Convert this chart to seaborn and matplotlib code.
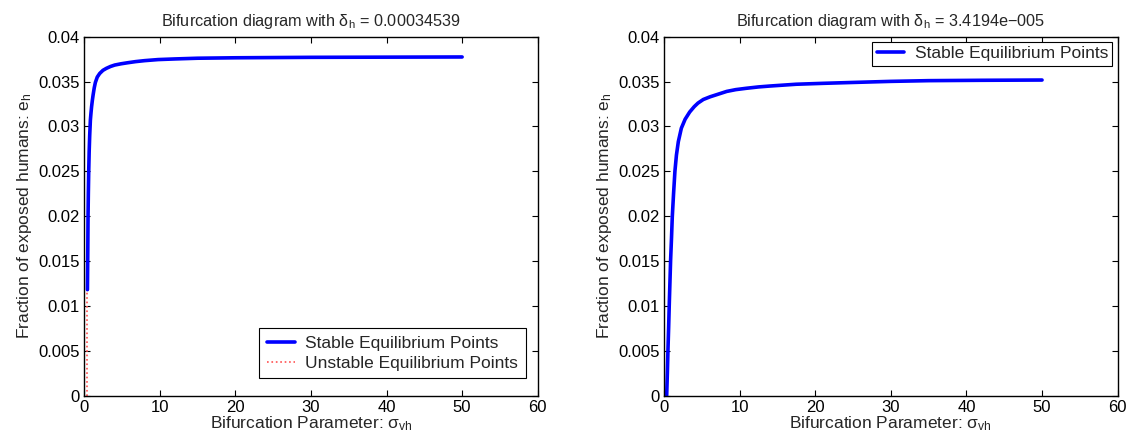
import matplotlib
matplotlib.use("Agg")
import matplotlib.pyplot as plt
import seaborn as sns
import pandas as pd
from matplotlib.ticker import FuncFormatter, MultipleLocator

# ---- data ----
left_stable_sigma = [0.45, 0.50, 0.53, 0.57, 0.62, 0.68, 0.75, 0.84, 0.92, 1.0, 1.1, 1.2, 1.35, 1.5, 1.75,
                     2.07, 2.5, 2.95, 3.5, 4.06, 4.9, 5.8, 6.8, 8.0, 9.8, 12, 15, 20, 30, 40, 50]
left_stable_e = [0.0118, 0.0165, 0.0199, 0.0225, 0.0250, 0.0272, 0.0290, 0.0307, 0.0315, 0.0322, 0.0329,
                 0.0335, 0.0343, 0.0349, 0.0355, 0.0359, 0.03625, 0.03647, 0.03668, 0.03684, 0.03698,
                 0.0371, 0.03722, 0.03733, 0.03745, 0.03752, 0.0376, 0.03765, 0.0377, 0.03772, 0.03774]
left_unstable_sigma = [0.45, 0.45]
left_unstable_e = [0.0, 0.0118]

right_stable_sigma = [0.36, 0.45, 0.53, 0.62, 0.70, 0.79, 0.88, 1.0, 1.1, 1.27, 1.45, 1.65, 1.9, 2.3, 2.8,
                      3.4, 4.0, 4.5, 5.2, 6.1, 7.2, 8.3, 9.5, 10.9, 12.5, 14, 17.5, 21, 25, 30, 35, 42, 50]
right_stable_e = [0.0, 0.0025, 0.0051, 0.0076, 0.0101, 0.0126, 0.0151, 0.0176, 0.0199, 0.0225, 0.0250,
                  0.0268, 0.0283, 0.0298, 0.0308, 0.0316, 0.0322, 0.0326, 0.0330, 0.0333, 0.0336, 0.0339,
                  0.0341, 0.03425, 0.0344, 0.0345, 0.0347, 0.0348, 0.0349, 0.03502, 0.0351, 0.03514, 0.03517]

titles = [r"Bifurcation diagram with $\delta_h$ = 0.00034539",
          r"Bifurcation diagram with $\delta_h$ = 3.4194e$-$005"]
xlabel = r"Bifurcation Parameter: $\sigma_{vh}$"
ylabel = r"Fraction of exposed humans: $e_h$"
stable_label = "Stable Equilibrium Points"
unstable_label = "Unstable Equilibrium Points"

sns.set_style("ticks")
plt.rcParams['font.family'] = ['Liberation Sans', 'DejaVu Sans']
plt.rcParams['mathtext.fontset'] = 'custom'
plt.rcParams['mathtext.rm'] = 'Liberation Sans'
plt.rcParams['mathtext.it'] = 'Liberation Sans'
plt.rcParams['mathtext.default'] = 'regular'

fig = plt.figure(figsize=(11.34, 4.47), dpi=100)
ax1 = fig.add_axes([0.0741, 0.1152, 0.4001, 0.8027])
ax2 = fig.add_axes([0.5855, 0.1152, 0.4001, 0.8027])

df_ls = pd.DataFrame({"sigma": left_stable_sigma, "e": left_stable_e})
df_lu = pd.DataFrame({"sigma": left_unstable_sigma, "e": left_unstable_e})
df_rs = pd.DataFrame({"sigma": right_stable_sigma, "e": right_stable_e})

sns.lineplot(data=df_ls, x="sigma", y="e", ax=ax1, color="#0000ff", lw=2.6,
             sort=False, estimator=None, label=stable_label)
sns.lineplot(data=df_lu, x="sigma", y="e", ax=ax1, color="#ff5050", lw=1.2,
             linestyle=":", sort=False, estimator=None, label=unstable_label)
sns.lineplot(data=df_rs, x="sigma", y="e", ax=ax2, color="#0000ff", lw=2.6,
             sort=False, estimator=None, label=stable_label)

fmt = FuncFormatter(lambda v, p: "%g" % round(v, 6))
for ax, t in zip([ax1, ax2], titles):
    ax.set_xlim(0, 60)
    ax.set_ylim(0, 0.04)
    ax.xaxis.set_major_locator(MultipleLocator(10))
    ax.yaxis.set_major_locator(MultipleLocator(0.005))
    ax.yaxis.set_major_formatter(fmt)
    ax.xaxis.set_major_formatter(fmt)
    ax.tick_params(direction="in", top=True, right=True, length=4, width=0.8,
                   labelsize=12, colors="black", pad=3)
    for s in ax.spines.values():
        s.set_visible(True)
        s.set_color("black")
        s.set_linewidth(1.0)
    ax.set_title(t, fontsize=11.7, pad=8)
    ax.set_xlabel(xlabel, fontsize=12.5, labelpad=0)
    ax.set_ylabel(ylabel, fontsize=12.5, labelpad=3)

leg1 = ax1.legend(loc="lower right", bbox_to_anchor=(0.9736, 0.0474), fontsize=12.5,
                  frameon=True, fancybox=False, edgecolor="black", framealpha=1,
                  handlelength=1.6, handletextpad=0.6, borderpad=0.45,
                  labelspacing=0.25, borderaxespad=0.0)
leg1.get_frame().set_linewidth(0.8)
leg2 = ax2.legend(loc="upper right", fontsize=12.5, frameon=True, fancybox=False,
                  edgecolor="black", framealpha=1, handlelength=1.6, handletextpad=0.6,
                  borderpad=0.25, labelspacing=0.1, borderaxespad=0.3)
leg2.get_frame().set_linewidth(0.8)

fig.savefig("out.png", dpi=100)
